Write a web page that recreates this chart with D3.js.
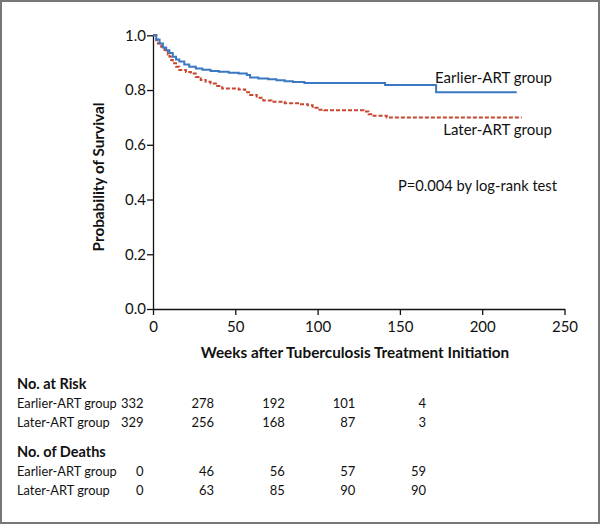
<!DOCTYPE html>
<html><head><meta charset="utf-8">
<script src="https://cdn.jsdelivr.net/npm/d3@7"></script>
<style>body{margin:0;background:#fff}svg{display:block}text{font-family:Lato,"Open Sans",sans-serif;fill:#111}</style>
</head><body><svg id="c" width="600" height="525"></svg>
<script>
const earlier = [[0,1.0],[2,0.985],[4,0.97],[6,0.955],[8,0.945],[10,0.935],[12,0.922],[14,0.912],[16,0.904],[19,0.893],[22,0.885],[26,0.879],[30,0.874],[35,0.870],[40,0.867],[46,0.863],[52,0.860],[57,0.855],[59,0.846],[64,0.842],[70,0.839],[75,0.836],[80,0.832],[85,0.829],[92,0.826],[141,0.818],[172,0.792],[221,0.792]];
const later = [[0,1.0],[2,0.982],[3,0.97],[5,0.958],[7,0.946],[9,0.93],[10,0.922],[11,0.91],[12,0.898],[14,0.885],[16,0.873],[20,0.866],[23,0.860],[26,0.848],[29,0.837],[32,0.830],[35,0.824],[39,0.815],[42,0.806],[52,0.802],[56,0.792],[59,0.782],[63,0.772],[67,0.762],[72,0.757],[80,0.752],[89,0.748],[94,0.744],[97,0.735],[100,0.728],[104,0.726],[128,0.722],[131,0.712],[134,0.706],[142,0.70],[224,0.70]];
const xTicks = [0,50,100,150,200,250];
const yTicks = [0,0.2,0.4,0.6,0.8,1.0];
const groups = ["Earlier-ART group","Later-ART group"];
const tableWeeks = [0,50,100,150,200];
const atRiskEarlier = [332,278,192,101,4];
const atRiskLater = [329,256,168,87,3];
const deathsEarlier = [0,46,56,57,59];
const deathsLater = [0,63,85,90,90];

const svg = d3.select("#c");
svg.append("rect").attr("x",1).attr("y",1).attr("width",598).attr("height",522)
  .attr("fill","none").attr("stroke","#777").attr("stroke-width",2);

const x = d3.scaleLinear().domain([0,250]).range([153,564.5]);
const y = d3.scaleLinear().domain([0,1]).range([309,35.3]);

const xa = svg.append("g").attr("transform","translate(0,309)")
  .call(d3.axisBottom(x).tickValues(xTicks).tickSize(6).tickSizeOuter(0).tickFormat(d3.format("d")));
const ya = svg.append("g").attr("transform","translate(153,0)")
  .call(d3.axisLeft(y).tickValues(yTicks).tickSize(6).tickSizeOuter(0).tickFormat(d3.format(".1f")));
[xa,ya].forEach(a=>{
  a.attr("font-size",15).attr("font-family","Lato,sans-serif");
  a.selectAll("path,line").attr("stroke","#111").attr("stroke-width",1.3);
  a.selectAll("text").attr("font-size",15).attr("fill","#111");
});
xa.selectAll("text").attr("dy","0.95em");
ya.selectAll("text").attr("x",-7);

const line = d3.line().x(d=>x(d[0])).y(d=>y(d[1])).curve(d3.curveStepAfter);
svg.append("path").datum(later).attr("d",line).attr("fill","none")
  .attr("stroke","#c8452f").attr("stroke-width",2).attr("stroke-dasharray","4,2");
svg.append("path").datum(earlier).attr("d",line).attr("fill","none")
  .attr("stroke","#3b78c2").attr("stroke-width",2);

svg.append("text").attr("x",552).attr("y",83).attr("text-anchor","end").attr("font-size",15).text(groups[0]);
svg.append("text").attr("x",552).attr("y",135).attr("text-anchor","end").attr("font-size",15).text(groups[1]);
svg.append("text").attr("x",557).attr("y",191).attr("text-anchor","end").attr("font-size",14.7).text("P=0.004 by log-rank test");

svg.append("text").attr("transform","translate(104,177) rotate(-90)").attr("text-anchor","middle")
  .attr("font-size",15.3).attr("font-weight","bold").text("Probability of Survival");
svg.append("text").attr("x",355).attr("y",358).attr("text-anchor","middle")
  .attr("font-size",15.3).attr("font-weight","bold").text("Weeks after Tuberculosis Treatment Initiation");

const tx = d3.scaleLinear().domain([0,200]).range([143.5,426]);
function section(title, yTitle, rows){
  svg.append("text").attr("x",17).attr("y",yTitle).attr("font-size",14.5).attr("font-weight","bold").text(title);
  rows.forEach((r,i)=>{
    const yy = yTitle + 19 + i*18.5;
    svg.append("text").attr("x",17).attr("y",yy).attr("font-size",12.8).text(groups[i]);
    svg.selectAll(null).data(r).enter().append("text")
      .attr("x",(d,j)=>tx(tableWeeks[j])).attr("y",yy).attr("text-anchor","end").attr("font-size",13).text(d=>d);
  });
}
section("No. at Risk", 389, [atRiskEarlier, atRiskLater]);
section("No. of Deaths", 457, [deathsEarlier, deathsLater]);
</script></body></html>
